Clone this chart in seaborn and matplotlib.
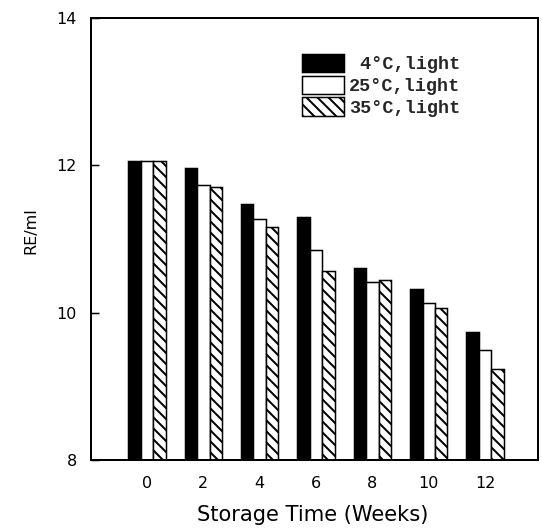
import matplotlib
matplotlib.use("Agg")
import matplotlib.pyplot as plt
import seaborn as sns
import pandas as pd

# Storage stability of retinol equivalents under light at three temperatures
weeks = ["0", "2", "4", "6", "8", "10", "12"]
re_4c = [12.06, 11.96, 11.48, 11.30, 10.60, 10.32, 9.74]
re_25c = [12.06, 11.73, 11.27, 10.85, 10.41, 10.13, 9.49]
re_35c = [12.06, 11.70, 11.16, 10.57, 10.44, 10.07, 9.24]
conditions = [" 4°C,light", "25°C,light", "35°C,light"]

df = pd.DataFrame({
    "week": weeks * 3,
    "re": re_4c + re_25c + re_35c,
    "condition": [c for c in conditions for _ in weeks],
})

DPI = 66
PX = 72.0 / DPI  # points per pixel

sns.set_theme(style="white")
plt.rcParams["font.family"] = ["DejaVu Sans"]
plt.rcParams["hatch.linewidth"] = 2.0 * PX
plt.rcParams["hatch.color"] = "black"

fig = plt.figure(figsize=(542 / DPI, 529 / DPI), dpi=DPI)
ax = fig.add_axes([91 / 542, 1 - 460 / 529, (538 - 91) / 542, (460 - 18) / 529])

sns.barplot(
    data=df, x="week", y="re", hue="condition", order=weeks,
    hue_order=conditions, palette=["black", "white", "white"],
    width=0.66, gap=0, edgecolor="black", linewidth=1.5 * PX,
    saturation=1, legend=False, ax=ax,
)

# diagonal hatching for the 35 °C series
for bar in ax.containers[2].patches:
    bar.set_hatch("\\\\")

ax.set_ylim(8, 14)
ax.set_xlim(-0.994, 6.94)
ax.set_yticks([8, 10, 12, 14])
ax.set_yticklabels(["8", "10", "12", "14"])

for side in ["left", "right", "top", "bottom"]:
    ax.spines[side].set_visible(True)
    ax.spines[side].set_color("black")
    ax.spines[side].set_linewidth(2.0 * PX)

ax.tick_params(axis="y", direction="in", length=8 * PX, width=1.5 * PX,
               pad=14 * PX, labelsize=16 * PX, left=True, colors="black")
ax.tick_params(axis="x", length=0, pad=16 * PX, labelsize=16 * PX,
               colors="black")

ax.set_xlabel("Storage Time (Weeks)", fontsize=21 * PX, color="black")
ax.set_ylabel("RE/ml", fontsize=16 * PX, color="black")
ax.xaxis.set_label_coords(0.496, (460 - 505) / 442)
ax.yaxis.set_label_coords((38 - 91) / 447, (460 - 231) / 442)

handles = [c.patches[0] for c in ax.containers]
ax.legend(
    handles, conditions, loc="upper left",
    bbox_to_anchor=((302 - 91) / 447, (460 - 54) / 442),
    frameon=False, borderpad=0, borderaxespad=0,
    handlelength=2.27, handleheight=1.15, labelspacing=0.12,
    handletextpad=0.27,
    prop={"family": "Liberation Mono", "weight": "bold", "size": 18.5 * PX},
)

fig.savefig("out.png", dpi=DPI, facecolor="white")
